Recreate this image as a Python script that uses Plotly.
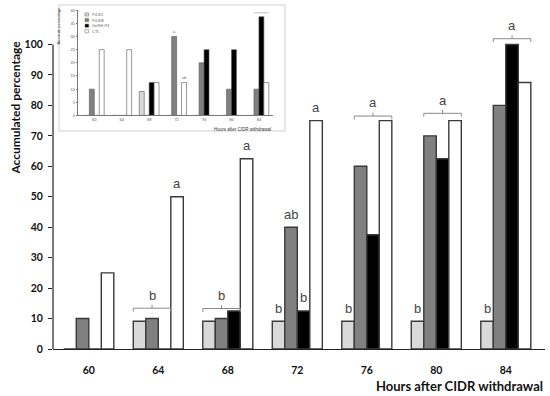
import plotly.graph_objects as go

hours = ["60", "64", "68", "72", "76", "80", "84"]
series_names = ["P4-E2", "P4-EB", "GnRH-P4", "CTL"]
series_colors = ["#d9d9d9", "#808080", "#000000", "#ffffff"]

# Accumulated percentage (main chart)
acc_light = [0, 9.1, 9.1, 9.1, 9.1, 9.1, 9.1]
acc_dark = [10, 10, 10, 40, 60, 70, 80]
acc_black = [0, 0, 12.5, 12.5, 37.5, 62.5, 100]
acc_white = [25, 50, 62.5, 75, 75, 75, 87.5]

# Absolute percentage (inset chart)
abs_light = [0, 0, 9.1, 0, 0, 0, 0]
abs_dark = [10, 0, 0, 30, 20, 10, 10]
abs_black = [0, 0, 12.5, 0, 25, 25, 37.5]
abs_white = [25, 25, 12.5, 12.5, 0, 0, 12.5]

y_ticks = [0, 10, 20, 30, 40, 50, 60, 70, 80, 90, 100]
inset_ticks = [0, 5, 10, 15, 20, 25, 30, 35, 40]

# significance letters: (hour index, series index, letter)
bar_letters = [(1, 3, "a"), (2, 3, "a"), (3, 0, "b"), (3, 1, "ab"), (3, 2, "b"),
               (3, 3, "a"), (4, 0, "b"), (5, 0, "b"), (6, 0, "b")]
# bracket letters: (hour index, first series, last series, bracket height, letter)
bracket_letters = [(1, 0, 2, 13.4, "b"), (2, 0, 2, 13.3, "b"), (4, 1, 3, 76.5, "a"),
                   (5, 1, 3, 77.4, "a"), (6, 1, 3, 101.9, "a")]

acc = [acc_light, acc_dark, acc_black, acc_white]
absv = [abs_light, abs_dark, abs_black, abs_white]
xs = list(range(len(hours)))

BARGAP = 0.28
bw = (1 - BARGAP) / 4

def bar_center(i, s):
    return i + (s - 1.5) * bw

fig = go.Figure()
for s in range(4):
    fig.add_trace(go.Bar(
        x=xs, y=acc[s], name=series_names[s], showlegend=False,
        marker=dict(color=series_colors[s], line=dict(color="#3a3a3a", width=1.4)),
        xaxis="x", yaxis="y"))
for s in range(4):
    fig.add_trace(go.Bar(
        x=xs, y=absv[s], name=series_names[s], showlegend=False,
        marker=dict(color=series_colors[s], line=dict(color="#555555", width=0.6)),
        xaxis="x2", yaxis="y2"))

shapes = []
annotations = []
letter_font = dict(family="Liberation Sans, Arial", size=13, color="#444444")

for i, s, t in bar_letters:
    annotations.append(dict(x=bar_center(i, s), y=acc[s][i] + 4.3, xref="x", yref="y",
                            text=t, showarrow=False, font=letter_font,
                            xanchor="center", yanchor="middle"))

for i, s0, s1, yb, t in bracket_letters:
    x0 = bar_center(i, s0) - bw / 2
    x1 = bar_center(i, s1) + bw / 2
    xm = (x0 + x1) / 2
    path = (f"M {x0},{yb-1.1} L {x0},{yb} L {x1},{yb} L {x1},{yb-1.1} "
            f"M {xm},{yb} L {xm},{yb+1.1}")
    shapes.append(dict(type="path", path=path, xref="x", yref="y",
                       line=dict(color="#8a8a8a", width=1)))
    annotations.append(dict(x=xm, y=yb + 4.3, xref="x", yref="y", text=t,
                            showarrow=False, font=letter_font,
                            xanchor="center", yanchor="middle"))

# main y axis line from 0 to 100
shapes.append(dict(type="line", xref="paper", yref="y", x0=0, x1=0, y0=0, y1=100,
                   line=dict(color="#222222", width=1.2)))
# inset frame
shapes.append(dict(type="rect", xref="paper", yref="paper", x0=0.0122, x1=0.4715,
                   y0=0.632, y1=0.997, line=dict(color="#d0d0d0", width=1),
                   fillcolor="rgba(0,0,0,0)", layer="below"))

# inset manual legend
tiny = dict(family="Liberation Sans, Arial", size=4, color="#666666")
for s in range(4):
    yc = 1 - (0.041 + s * 0.053)
    shapes.append(dict(type="rect", xref="x2 domain", yref="y2 domain",
                       x0=0.036, x1=0.055, y0=yc - 0.015, y1=yc + 0.015,
                       fillcolor=series_colors[s], line=dict(color="#666666", width=0.5)))
    annotations.append(dict(x=0.062, y=yc, xref="x2 domain",
                            yref="y2 domain", text=series_names[s], showarrow=False,
                            xanchor="left", yanchor="middle", font=tiny))

annotations.append(dict(x=bar_center(3, 1), y=abs_dark[3] + 2, xref="x2", yref="y2",
                        text="a", showarrow=False, font=tiny))
annotations.append(dict(x=bar_center(3, 3), y=abs_white[3] + 2, xref="x2", yref="y2",
                        text="ab", showarrow=False, font=tiny))
annotations.append(dict(x=bar_center(6, 2), y=abs_black[6] + 4, xref="x2", yref="y2",
                        text="a", showarrow=False, font=tiny))
shapes.append(dict(type="line", xref="x2", yref="y2",
                   x0=bar_center(6, 1) - bw / 2, x1=bar_center(6, 3) + bw / 2,
                   y0=abs_black[6] + 1.5, y1=abs_black[6] + 1.5,
                   line=dict(color="#999999", width=0.6)))
annotations.append(dict(x=1.0, y=-0.09, xref="x2 domain", yref="y2 domain",
                        text="Hours after CIDR withdrawal", showarrow=False,
                        xanchor="right", yanchor="top",
                        font=dict(family="Liberation Sans", size=4.5, color="#333333")))
annotations.append(dict(x=-0.1, y=0.85, xref="x2 domain", yref="y2 domain",
                        text="Absolute percentage", showarrow=False, textangle=-90,
                        xanchor="center", yanchor="middle",
                        font=dict(family="Liberation Sans", size=4, color="#333333")))

# main axis titles
annotations.append(dict(x=-0.077, y=0.70, xref="paper", yref="paper",
                        text="Accumulated percentage", showarrow=False, textangle=-90,
                        xanchor="center", yanchor="middle",
                        font=dict(family="Lato", size=12, color="#111111", weight="bold")))
annotations.append(dict(x=1.0, y=-0.108, xref="paper", yref="paper",
                        text="Hours after CIDR withdrawal", showarrow=False,
                        xanchor="right", yanchor="middle",
                        font=dict(family="Lato", size=13, color="#111111", weight="bold")))

fig.update_layout(
    width=550, height=396,
    margin=dict(l=53, r=5, t=4, b=47),
    paper_bgcolor="white", plot_bgcolor="white",
    barmode="group", bargap=BARGAP, bargroupgap=0,
    showlegend=False,
    xaxis=dict(domain=[0, 1], range=[-0.515, 6.564], tickvals=xs, ticktext=hours,
               showline=True, linecolor="#222222", linewidth=1.2, ticks="",
               showgrid=False, zeroline=False, ticklabelstandoff=11, automargin=False,
               tickfont=dict(family="Lato", size=10.5, color="#111111", weight="bold"),
               anchor="y"),
    yaxis=dict(domain=[0, 1], range=[0, 113.3], tickvals=y_ticks,
               showline=False, ticks="outside", ticklen=4, tickcolor="#222222",
               showgrid=False, zeroline=False, ticklabelstandoff=3, automargin=False,
               tickfont=dict(family="Lato", size=10.5, color="#111111", weight="bold"),
               anchor="x"),
    xaxis2=dict(domain=[0.0508, 0.447], range=[-0.594, 6.51], tickvals=xs, ticktext=hours,
                showline=True, linecolor="#777777", linewidth=0.6, ticks="",
                showgrid=False, zeroline=False, anchor="y2", automargin=False,
                tickfont=dict(family="Liberation Sans", size=4, color="#555555")),
    yaxis2=dict(domain=[0.677, 0.982], range=[0, 40], tickvals=inset_ticks,
                showline=True, linecolor="#777777", linewidth=0.6, ticks="outside",
                ticklen=1.5, tickcolor="#777777", tickwidth=0.6, automargin=False,
                showgrid=False, zeroline=False, anchor="x2",
                tickfont=dict(family="Liberation Sans", size=4, color="#555555")),
    shapes=shapes, annotations=annotations,
)

fig.write_html("out.html", config={"displayModeBar": False},
               post_script="document.body.style.margin='0px';")
